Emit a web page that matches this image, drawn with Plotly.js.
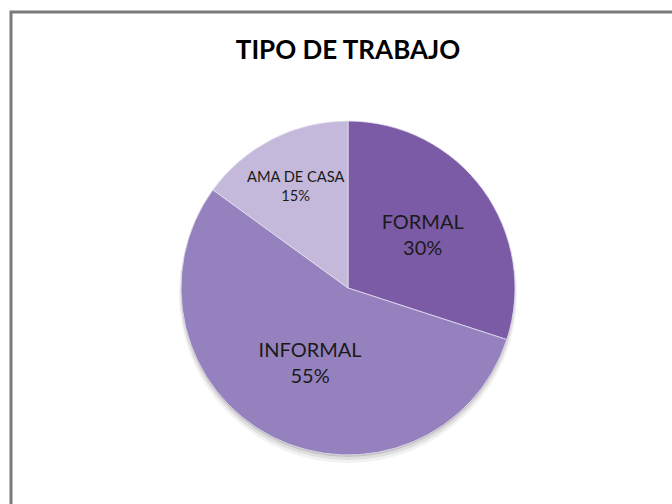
<!DOCTYPE html>
<html>
<head>
<meta charset="utf-8">
<script src="https://cdn.plot.ly/plotly-3.0.1.min.js"></script>
<style>html,body{margin:0;padding:0;background:#fff;}#chart{width:672px;height:504px;}</style>
</head>
<body>
<div id="chart"></div>
<script>
const categories = ["FORMAL", "INFORMAL", "AMA DE CASA"];
const values = [30, 55, 15];
const sliceColors = ["#7b5ba6", "#9581bd", "#c4b8db"];
const chartTitle = "TIPO DE TRABAJO";

const W = 672, H = 504;
const cx = 348, cy = 288, r = 167;

const trace = {
  type: "pie",
  labels: categories,
  values: values,
  sort: false,
  direction: "clockwise",
  rotation: 0,
  textinfo: "label+percent",
  textposition: "inside",
  insidetextorientation: "horizontal",
  texttemplate: "%{label}<br>%{percent:.0%}",
  textfont: {family: "Lato, 'Noto Sans', sans-serif", size: 20, color: "#1a1a1a"},
  marker: {colors: sliceColors, line: {color: "rgba(230,225,240,0.8)", width: 1}},
  domain: {x: [(cx - r) / W, (cx + r) / W], y: [(H - cy - r) / H, (H - cy + r) / H]},
  hoverinfo: "none",
  showlegend: false
};

function circ(dx, dy, rr, color) {
  return {
    type: "circle", xref: "paper", yref: "paper", layer: "below",
    x0: (cx + dx - rr) / W, x1: (cx + dx + rr) / W,
    y0: (H - cy - dy - rr) / H, y1: (H - cy - dy + rr) / H,
    line: {width: 0}, fillcolor: color
  };
}

const layout = {
  width: W, height: H,
  margin: {l: 0, r: 0, t: 0, b: 0},
  paper_bgcolor: "#ffffff",
  title: {
    text: "<b>" + chartTitle + "</b>",
    font: {family: "Lato, 'Noto Sans', sans-serif", size: 26, color: "#000000"},
    x: cx / W, xanchor: "center",
    y: 1 - 50 / H, yanchor: "middle", yref: "container"
  },
  shapes: [
    {
      type: "rect", xref: "paper", yref: "paper",
      x0: 11 / W, x1: 1.05, y0: -0.05, y1: 1 - 12 / H,
      line: {color: "#7a7a7a", width: 3}, fillcolor: "rgba(0,0,0,0)", layer: "below"
    },
    circ(0, 6, r + 2, "rgba(0,0,0,0.05)"),
    circ(0, 4, r + 1, "rgba(0,0,0,0.08)"),
    circ(0, 2, r, "rgba(0,0,0,0.12)")
  ]
};

Plotly.newPlot("chart", [trace], layout, {displayModeBar: false, staticPlot: true});
</script>
</body>
</html>
